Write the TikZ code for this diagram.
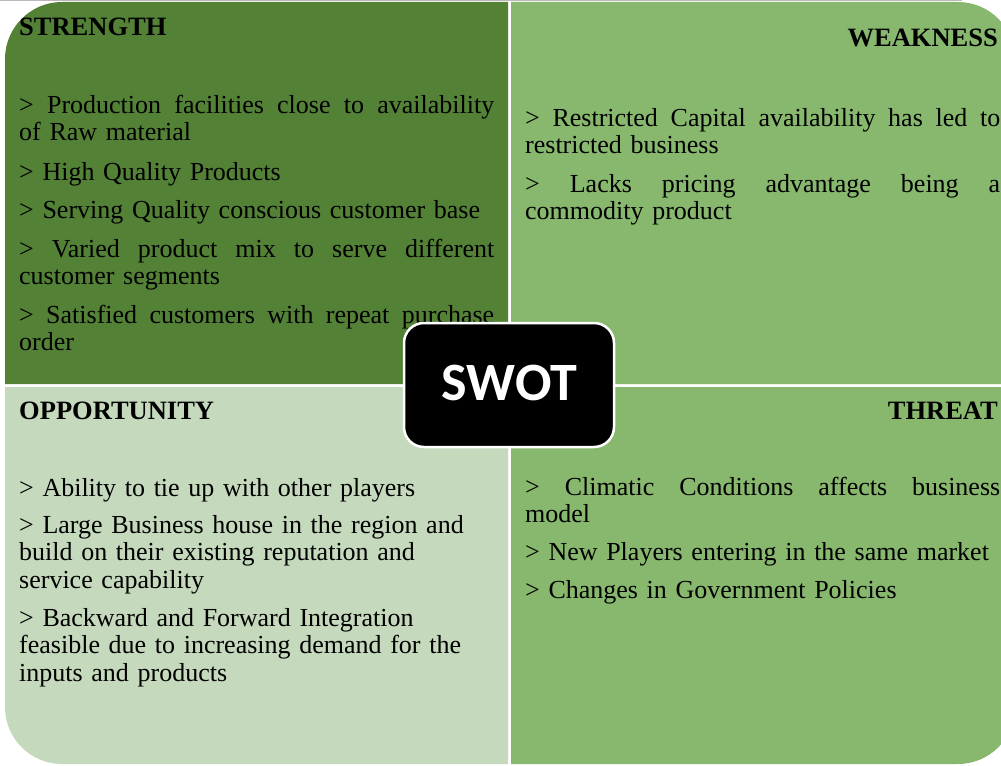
\documentclass[tikz,border=0pt]{standalone}
\usepackage{fontspec}
\setmainfont{Liberation Serif}
\newfontfamily\swotfont{Carlito}
\definecolor{sgreen}{HTML}{538135}
\definecolor{wgreen}{HTML}{87B86E}
\definecolor{ogreen}{HTML}{C5D9BC}
\tikzset{
  head/.style={inner sep=0pt, font=\fontsize{26.5bp}{26.5bp}\selectfont\bfseries},
  body/.style={inner sep=0pt, anchor=base west, text width=540bp, align=left,
    font=\fontsize{26bp}{27.6bp}\selectfont},
  swotbox/.style={rectangle, rounded corners=20bp, fill=black, draw=white, line width=2.5bp,
    minimum width=210bp, minimum height=124bp, inner sep=0pt},
}
\newcommand{\jline}[1]{\hbox to 475bp{\spaceskip=0.25em plus 1fil #1}}
\begin{document}
\begin{tikzpicture}[x=1bp,y=-1bp]
\useasboundingbox (0,0) rectangle (1001,766);
\fill[gray!55] (0,0) rectangle (962,1.3);
% quadrants
\fill[sgreen] (508,384) -- (508,2) [rounded corners=57bp] -- (5,2) [sharp corners] -- (5,384) -- cycle;
\fill[wgreen] (511,384) -- (511,2) [rounded corners=57bp] -- (1015,2) [sharp corners] -- (1015,384) -- cycle;
\fill[ogreen] (508,387) -- (5,387) [rounded corners=57bp] -- (5,764) [sharp corners] -- (508,764) -- cycle;
\fill[wgreen] (511,387) -- (1015,387) [rounded corners=57bp] -- (1015,764) [sharp corners] -- (511,764) -- cycle;
% headings
\node[head, anchor=base west] (hs) at (19,36) {STRENGTH};
\node[head, anchor=base east] (hw) at (998,47) {WEAKNESS};
\node[head, anchor=base west] (ho) at (19,419) {OPPORTUNITY};
\node[head, anchor=base east] (ht) at (998,419) {THREAT};
% strength
\node[body] (s1) at (19,113) {\jline{> Production facilities close to availability}\\of Raw material};
\node[body] (s2) at (19,180) {> High Quality Products};
\node[body] (s3) at (19,218) {> Serving Quality conscious customer base};
\node[body] (s4) at (19,257) {\jline{> Varied product mix to serve different}\\customer segments};
\node[body] (s5) at (19,323) {\jline{> Satisfied customers with repeat purchase}\\order};
% weakness
\node[body] (w1) at (525,126) {\jline{> Restricted Capital availability has led to}\\restricted business};
\node[body] (w2) at (525,192) {\jline{> Lacks pricing advantage being a}\\commodity product};
% opportunity
\node[body] (o1) at (19,496) {> Ability to tie up with other players};
\node[body] (o2) at (19,533) {> Large Business house in the region and\\build on their existing reputation and\\service capability};
\node[body] (o3) at (19,626) {> Backward and Forward Integration\\feasible due to increasing demand for the\\inputs and products};
% threat
\node[body] (t1) at (525,495) {\jline{> Climatic Conditions affects business}\\model};
\node[body] (t2) at (525,560) {> New Players entering in the same market};
\node[body] (t3) at (525,598) {> Changes in Government Policies};
% centre box
\node[swotbox] (swot) at (509,385) {};
\node[inner sep=0pt, anchor=base, text=white, font=\swotfont\bfseries\fontsize{54bp}{54bp}\selectfont] (swottxt) at (509.5,400) {SWOT};
\end{tikzpicture}
\end{document}
